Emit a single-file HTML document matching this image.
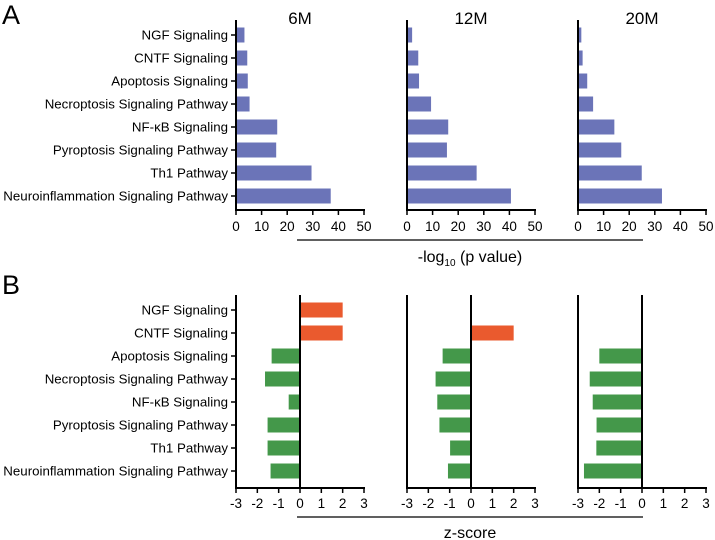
<!DOCTYPE html>
<html><head><meta charset="utf-8"><style>
body{margin:0;background:#fff}
svg{display:block;font-family:"Liberation Sans",Arial,sans-serif}
</style></head><body>
<svg id="c" width="715" height="540" viewBox="0 0 715 540"></svg>
<script>
const categories=["NGF Signaling","CNTF Signaling","Apoptosis Signaling","Necroptosis Signaling Pathway","NF-κB Signaling","Pyroptosis Signaling Pathway","Th1 Pathway","Neuroinflammation Signaling Pathway"];
const timepoints=["6M","12M","20M"];
const pval6M=[3.3,4.4,4.6,5.3,16.1,15.7,29.5,37];
const pval12M=[2,4.4,4.7,9.4,16.1,15.6,27.2,40.6];
const pval20M=[1.3,1.8,3.6,5.9,14.2,16.9,24.9,32.8];
const z6M=[2.0,2.0,-1.33,-1.64,-0.53,-1.52,-1.52,-1.38];
const z12M=[0,2.0,-1.33,-1.66,-1.58,-1.48,-0.98,-1.08];
const z20M=[0,0,-2.0,-2.45,-2.31,-2.13,-2.14,-2.72];
const pTicks=[0,10,20,30,40,50];
const zTicks=[-3,-2,-1,0,1,2,3];

const svg=document.getElementById('c');
const NS='http://www.w3.org/2000/svg';
function mk(tag,attrs,name,text){const e=document.createElementNS(NS,tag);for(const k in attrs)e.setAttribute(k,attrs[k]);


if(text!==undefined)e.textContent=text;svg.appendChild(e);return e;}
const panelX=[236,407,578], W=128;
function rowY(top,i){return top+i*23;}

mk('text',{x:2,y:24,'font-size':27},'panel-label-a','A');
mk('text',{x:2,y:294,'font-size':27},'panel-label-b','B');

const pData=[pval6M,pval12M,pval20M];
const aTop=20,aBot=210,aRow0=35;
pData.forEach((vals,p)=>{
  const x0=panelX[p];
  const sx=v=>x0+v/50*W;
  mk('text',{x:x0+64,y:24,'font-size':17,'text-anchor':'middle'},'title-'+timepoints[p],timepoints[p]);
  vals.forEach((v,i)=>{
    const y=rowY(aRow0,i);
    mk('rect',{x:x0,y:y-7.5,width:sx(v)-x0,height:15,fill:'#6b74b8'},'bar-pval-'+timepoints[p]+'-'+i);
  });
  mk('line',{x1:x0,y1:aTop,x2:x0,y2:aBot,stroke:'#000','stroke-width':2},'y-axis-a-'+timepoints[p]);
  mk('line',{x1:x0-1,y1:aBot,x2:x0+W+1,y2:aBot,stroke:'#000','stroke-width':2},'x-axis-a-'+timepoints[p]);
  pTicks.forEach(t=>{
    mk('line',{x1:sx(t),y1:aBot,x2:sx(t),y2:aBot+5,stroke:'#000','stroke-width':1.5},'x-tick');
    mk('text',{x:sx(t),y:aBot+21,'font-size':13.5,'text-anchor':'middle'},'x-tick-label',String(t));
  });
  if(p===0){
    categories.forEach((c,i)=>{
      const y=rowY(aRow0,i);
      mk('line',{x1:x0-5,y1:y,x2:x0,y2:y,stroke:'#000','stroke-width':1.5},'y-tick');
      mk('text',{x:x0-8,y:y+4.5,'font-size':13.3,'text-anchor':'end'},'category-label-a',c);
    });
  }
});
mk('line',{x1:297,y1:240,x2:643,y2:240,stroke:'#000','stroke-width':1.2},'x-axis-title-rule-a');
const xt=mk('text',{x:470,y:262,'font-size':16,'text-anchor':'middle'},'x-axis-title-a');
xt.innerHTML='-log<tspan font-size="10" dy="4">10</tspan><tspan dy="-4"> (p value)</tspan>';

const zData=[z6M,z12M,z20M];
const bTop=295,bBot=488,bRow0=310;
zData.forEach((vals,p)=>{
  const x0=panelX[p];
  const sx=v=>x0+(v+3)/6*W;
  vals.forEach((v,i)=>{
    if(v===0)return;
    const y=rowY(bRow0,i);
    const a=Math.min(sx(0),sx(v)), b=Math.max(sx(0),sx(v));
    mk('rect',{x:a,y:y-7.5,width:b-a,height:15,fill:v>0?'#ea5a2e':'#44984a'},'bar-zscore-'+timepoints[p]+'-'+i);
  });
  mk('line',{x1:x0,y1:bTop,x2:x0,y2:bBot,stroke:'#000','stroke-width':2},'y-axis-b-'+timepoints[p]);
  mk('line',{x1:sx(0),y1:bTop,x2:sx(0),y2:bBot,stroke:'#000','stroke-width':2},'zero-line-'+timepoints[p]);
  mk('line',{x1:x0-1,y1:bBot,x2:x0+W+1,y2:bBot,stroke:'#000','stroke-width':2},'x-axis-b-'+timepoints[p]);
  zTicks.forEach(t=>{
    mk('line',{x1:sx(t),y1:bBot,x2:sx(t),y2:bBot+5,stroke:'#000','stroke-width':1.5},'x-tick');
    mk('text',{x:sx(t),y:bBot+20,'font-size':13.5,'text-anchor':'middle'},'x-tick-label',String(t));
  });
  if(p===0){
    categories.forEach((c,i)=>{
      const y=rowY(bRow0,i);
      mk('line',{x1:x0-5,y1:y,x2:x0,y2:y,stroke:'#000','stroke-width':1.5},'y-tick');
      mk('text',{x:x0-8,y:y+4.5,'font-size':13.3,'text-anchor':'end'},'category-label-b',c);
    });
  }
});
mk('line',{x1:297,y1:517,x2:643,y2:517,stroke:'#000','stroke-width':1.2},'x-axis-title-rule-b');
mk('text',{x:470,y:538,'font-size':16,'text-anchor':'middle'},'x-axis-title-b','z-score');
</script>
</body></html>
